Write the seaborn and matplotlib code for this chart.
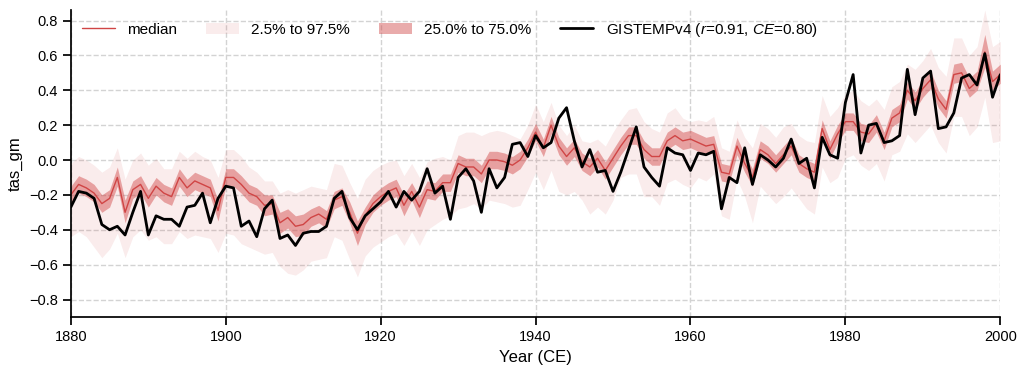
import numpy as np
import pandas as pd
import matplotlib
matplotlib.use("Agg")
import matplotlib.pyplot as plt
import seaborn as sns

# years 1880-2000, values
years = list(range(1880, 2001))

gistemp = [
    -0.27, -0.18, -0.19, -0.22, -0.37, -0.40, -0.38, -0.43, -0.30, -0.18,
    -0.43, -0.32, -0.34, -0.34, -0.38, -0.27, -0.26, -0.19, -0.36, -0.22,
    -0.15, -0.16, -0.38, -0.35, -0.44, -0.28, -0.23, -0.45, -0.43, -0.49,
    -0.42, -0.41, -0.41, -0.38, -0.22, -0.18, -0.33, -0.40, -0.32, -0.28,
    -0.24, -0.18, -0.27, -0.18, -0.23, -0.18, -0.05, -0.19, -0.15, -0.34,
    -0.10, -0.05, -0.12, -0.30, -0.05, -0.16, -0.10, 0.09, 0.10, 0.02,
    0.14, 0.07, 0.10, 0.24, 0.30, 0.11, -0.04, 0.06, -0.07, -0.06,
    -0.18, -0.07, 0.06, 0.19, -0.04, -0.10, -0.15, 0.07, 0.04, 0.03,
    -0.06, 0.04, 0.03, 0.05, -0.28, -0.10, -0.13, 0.07, -0.14, 0.03,
    0.00, -0.04, 0.01, 0.12, -0.02, 0.01, -0.16, 0.13, 0.03, 0.01,
    0.33, 0.49, 0.04, 0.20, 0.21, 0.10, 0.11, 0.14, 0.52, 0.26,
    0.47, 0.51, 0.18, 0.19, 0.27, 0.47, 0.49, 0.43, 0.61, 0.36,
    0.49,
]

median = [
    -0.20, -0.14, -0.16, -0.19, -0.25, -0.22, -0.10, -0.30, -0.17, -0.14,
    -0.22, -0.15, -0.19, -0.21, -0.10, -0.16, -0.12, -0.14, -0.16, -0.29,
    -0.10, -0.10, -0.14, -0.19, -0.21, -0.26, -0.25, -0.36, -0.33, -0.38,
    -0.37, -0.33, -0.31, -0.34, -0.23, -0.21, -0.30, -0.42, -0.32, -0.25,
    -0.21, -0.18, -0.16, -0.26, -0.18, -0.27, -0.17, -0.18, -0.13, -0.13,
    -0.02, -0.04, -0.04, -0.08, 0.00, 0.00, -0.01, -0.03, 0.00, 0.07,
    0.16, 0.07, 0.20, 0.08, 0.02, 0.07, -0.01, -0.04, 0.01, -0.06,
    0.01, 0.08, 0.14, 0.14, 0.06, 0.02, 0.02, 0.11, 0.14, 0.11,
    0.12, 0.10, 0.08, 0.09, -0.07, -0.08, 0.08, -0.02, -0.10, 0.06,
    0.03, -0.02, 0.03, 0.08, -0.02, -0.05, -0.07, 0.18, 0.06, 0.15,
    0.22, 0.22, 0.16, 0.15, 0.21, 0.11, 0.24, 0.27, 0.40, 0.34,
    0.41, 0.46, 0.35, 0.29, 0.49, 0.50, 0.41, 0.45, 0.62, 0.45,
    0.49,
]

q75 = [
    -0.15, -0.09, -0.11, -0.14, -0.20, -0.17, -0.04, -0.23, -0.12, -0.09,
    -0.17, -0.10, -0.14, -0.16, -0.05, -0.11, -0.07, -0.09, -0.11, -0.23,
    -0.05, -0.05, -0.09, -0.14, -0.16, -0.20, -0.20, -0.30, -0.28, -0.32,
    -0.31, -0.28, -0.26, -0.29, -0.18, -0.16, -0.24, -0.35, -0.27, -0.20,
    -0.16, -0.13, -0.11, -0.20, -0.13, -0.21, -0.12, -0.13, -0.08, -0.08,
    0.03, 0.01, 0.01, -0.03, 0.05, 0.05, 0.04, 0.02, 0.05, 0.12,
    0.21, 0.12, 0.25, 0.13, 0.07, 0.12, 0.04, 0.01, 0.06, -0.01,
    0.06, 0.13, 0.19, 0.19, 0.11, 0.07, 0.07, 0.16, 0.19, 0.16,
    0.17, 0.15, 0.13, 0.14, -0.02, -0.03, 0.13, 0.03, -0.05, 0.11,
    0.08, 0.03, 0.08, 0.13, 0.03, 0.00, -0.02, 0.23, 0.11, 0.20,
    0.27, 0.27, 0.21, 0.20, 0.26, 0.16, 0.29, 0.32, 0.45, 0.39,
    0.46, 0.51, 0.40, 0.34, 0.55, 0.56, 0.47, 0.51, 0.72, 0.51,
    0.55,
]

q25 = [
    -0.25, -0.19, -0.21, -0.24, -0.30, -0.27, -0.15, -0.36, -0.22, -0.19,
    -0.27, -0.20, -0.24, -0.26, -0.15, -0.21, -0.17, -0.19, -0.21, -0.35,
    -0.15, -0.15, -0.19, -0.24, -0.26, -0.32, -0.31, -0.42, -0.39, -0.44,
    -0.43, -0.38, -0.36, -0.39, -0.28, -0.26, -0.36, -0.49, -0.37, -0.30,
    -0.26, -0.23, -0.21, -0.32, -0.23, -0.33, -0.22, -0.23, -0.18, -0.18,
    -0.07, -0.09, -0.09, -0.13, -0.05, -0.05, -0.06, -0.08, -0.05, 0.02,
    0.11, 0.02, 0.15, 0.03, -0.03, 0.02, -0.06, -0.09, -0.04, -0.11,
    -0.04, 0.03, 0.09, 0.09, 0.01, -0.03, -0.03, 0.06, 0.09, 0.06,
    0.07, 0.05, 0.03, 0.04, -0.12, -0.13, 0.03, -0.07, -0.15, 0.01,
    -0.02, -0.07, -0.02, 0.03, -0.07, -0.10, -0.12, 0.13, 0.01, 0.10,
    0.17, 0.17, 0.11, 0.10, 0.16, 0.06, 0.19, 0.22, 0.35, 0.29,
    0.36, 0.41, 0.30, 0.24, 0.44, 0.45, 0.36, 0.40, 0.53, 0.40,
    0.44,
]

q975 = [
    -0.02, 0.02, 0.00, -0.03, -0.07, -0.04, 0.07, -0.11, 0.00, 0.04,
    -0.03, 0.01, -0.05, -0.05, 0.05, 0.01, 0.05, 0.02, 0.00, -0.10,
    0.06, 0.06, 0.02, -0.04, -0.07, -0.12, -0.12, -0.19, -0.17, -0.19,
    -0.17, -0.15, -0.16, -0.17, -0.02, -0.03, -0.13, -0.22, -0.11, -0.06,
    -0.03, -0.01, 0.00, -0.09, -0.02, -0.10, -0.01, 0.01, 0.02, 0.00,
    0.14, 0.16, 0.16, 0.14, 0.16, 0.17, 0.16, 0.14, 0.12, 0.20,
    0.32, 0.22, 0.33, 0.20, 0.14, 0.20, 0.11, 0.10, 0.12, 0.08,
    0.16, 0.23, 0.29, 0.30, 0.22, 0.18, 0.16, 0.27, 0.30, 0.24,
    0.22, 0.23, 0.22, 0.25, 0.07, 0.05, 0.23, 0.13, 0.07, 0.21,
    0.18, 0.13, 0.19, 0.21, 0.14, 0.11, 0.10, 0.37, 0.25, 0.30,
    0.38, 0.40, 0.34, 0.31, 0.35, 0.29, 0.42, 0.45, 0.55, 0.52,
    0.57, 0.64, 0.53, 0.48, 0.70, 0.70, 0.60, 0.65, 0.86, 0.65,
    0.68,
]

q025 = [
    -0.44, -0.41, -0.44, -0.50, -0.56, -0.51, -0.42, -0.56, -0.44, -0.40,
    -0.46, -0.44, -0.48, -0.48, -0.41, -0.45, -0.43, -0.44, -0.45, -0.53,
    -0.42, -0.43, -0.48, -0.50, -0.52, -0.54, -0.53, -0.61, -0.65, -0.66,
    -0.63, -0.58, -0.57, -0.56, -0.44, -0.46, -0.57, -0.67, -0.55, -0.50,
    -0.47, -0.44, -0.42, -0.49, -0.41, -0.49, -0.40, -0.37, -0.34, -0.32,
    -0.28, -0.27, -0.25, -0.28, -0.23, -0.24, -0.25, -0.27, -0.26, -0.17,
    -0.07, -0.17, -0.06, -0.18, -0.20, -0.18, -0.23, -0.31, -0.27, -0.31,
    -0.23, -0.10, -0.08, -0.08, -0.21, -0.21, -0.26, -0.13, -0.11, -0.14,
    -0.16, -0.10, -0.12, -0.08, -0.32, -0.34, -0.11, -0.21, -0.36, -0.15,
    -0.20, -0.25, -0.21, -0.16, -0.22, -0.28, -0.31, -0.04, -0.13, -0.10,
    0.01, 0.03, -0.03, -0.06, -0.02, -0.12, 0.03, 0.05, 0.15, 0.10,
    0.15, 0.20, 0.10, 0.04, 0.25, 0.25, 0.14, 0.19, 0.36, 0.10,
    0.11,
]

yticks = [-0.8, -0.6, -0.4, -0.2, 0.0, 0.2, 0.4, 0.6, 0.8]
xticks = [1880, 1900, 1920, 1940, 1960, 1980, 2000]

df = pd.DataFrame({"year": years, "median": median, "gistemp": gistemp,
                   "q25": q25, "q75": q75, "q025": q025, "q975": q975})

sns.set_theme(style="ticks")
plt.rcParams["font.family"] = ["Liberation Sans", "DejaVu Sans"]
plt.rcParams["mathtext.fontset"] = "custom"
plt.rcParams["mathtext.it"] = "Liberation Sans:italic"
plt.rcParams["mathtext.rm"] = "Liberation Sans"
plt.rcParams["text.color"] = "black"
plt.rcParams["axes.labelcolor"] = "black"
plt.rcParams["axes.edgecolor"] = "black"
plt.rcParams["xtick.color"] = "black"
plt.rcParams["ytick.color"] = "black"

red = "#d04545"

fig, ax = plt.subplots(figsize=(10.27, 3.72), dpi=100)

sns.lineplot(data=df, x="year", y="median", color=red, lw=1, ax=ax, label="median")
ax.fill_between(df["year"], df["q025"], df["q975"], color=red, alpha=0.1, lw=0,
                label="2.5% to 97.5%")
ax.fill_between(df["year"], df["q25"], df["q75"], color=red, alpha=0.45, lw=0,
                label="25.0% to 75.0%")
sns.lineplot(data=df, x="year", y="gistemp", color="black", lw=2, ax=ax,
             label="GISTEMPv4 ($r$=0.91, $CE$=0.80)")

ax.set_xlim(1880, 2000)
ax.set_ylim(-0.9, 0.86)
ax.set_xticks(xticks)
ax.set_yticks(yticks)
ax.set_yticklabels([f"{v:.1f}".replace("-", "\u2212") if v != 0 else "0.0" for v in yticks])
ax.tick_params(labelsize=10.5)
ax.set_xlabel("Year (CE)", fontsize=12)
ax.set_ylabel("tas_gm", fontsize=12)
ax.grid(True, ls="--", color="lightgrey", lw=1)
sns.despine(ax=ax)

ax.legend(loc="upper left", ncol=4, frameon=False, fontsize=11,
          columnspacing=1.85, handlelength=2.2, borderaxespad=0.3)

plt.subplots_adjust(left=0.069, right=0.974, top=0.973, bottom=0.148)
plt.savefig("out.png", dpi=100)
